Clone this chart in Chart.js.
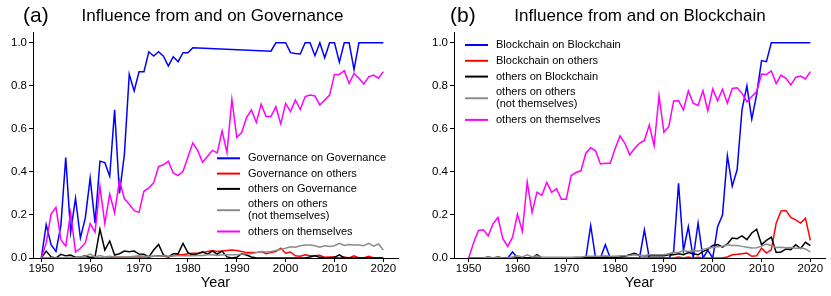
<!DOCTYPE html>
<html>
<head>
<meta charset="utf-8">
<script src="https://cdn.jsdelivr.net/npm/chart.js@4.4.0/dist/chart.umd.min.js"></script>
<style>
  body { margin: 0; background: #fff; }
  .panel { position: absolute; top: 0; height: 296px; }
  #pa { left: 0; width: 415px; }
  #pb { left: 415px; width: 416px; }
</style>
</head>
<body>
<div class="panel" id="pa"><canvas id="ca" width="415" height="296"></canvas></div>
<div class="panel" id="pb"><canvas id="cb" width="416" height="296"></canvas></div>
<script>
const years = [
  1950, 1951, 1952, 1953, 1954, 1955, 1956, 1957, 1958, 1959,
  1960, 1961, 1962, 1963, 1964, 1965, 1966, 1967, 1968, 1969,
  1970, 1971, 1972, 1973, 1974, 1975, 1976, 1977, 1978, 1979,
  1980, 1981, 1982, 1983, 1984, 1985, 1986, 1987, 1988, 1989,
  1990, 1991, 1992, 1993, 1994, 1995, 1996, 1997, 1998, 1999,
  2000, 2001, 2002, 2003, 2004, 2005, 2006, 2007, 2008, 2009,
  2010, 2011, 2012, 2013, 2014, 2015, 2016, 2017, 2018, 2019, 2020
];
const xTicks = [1950, 1960, 1970, 1980, 1990, 2000, 2010, 2020];
const yTicks = [0, 0.2, 0.4, 0.6, 0.8, 1.0];

// (a) Governance
const govOnGov = [
  0, 0.155, 0.062, 0.031, 0.15, 0.467, 0.12, 0.278, 0.093, 0.185,
  0.371, 0.162, 0.45, 0.443, 0.38, 0.688, 0.30, 0.48, 0.853, 0.776,
  0.865, 0.865, 0.958, 0.938, 0.958, 0.938, 0.892, 0.935, 0.912, 0.954,
  0.954, 0.977, null, null, null, null, null, null, null, null,
  null, null, null, null, null, null, null, 0.961, 1.0, 1.0,
  1.0, 0.954, 0.95, 0.948, 1.0, 1.0, 0.94, 1.0, 0.93, 1.0,
  1.0, 0.91, 1.0, 1.0, 0.875, 1.0, 1.0, 1.0, 1.0, 1.0, 1.0
];
const govOnOthers = [
  0, 0, 0, 0, 0, 0, 0, 0, 0, 0,
  0, 0, 0, 0, 0, 0.003, 0.003, 0.003, 0.005, 0.005,
  0.005, 0.005, 0.005, 0.008, 0.01, 0.008, 0.005, 0.01, 0.015, 0.015,
  0.02, 0.022, 0.022, 0.025, 0.03, 0.035, 0.03, 0.033, 0.035, 0.037,
  0.035, 0.03, 0.025, 0.025, 0.025, 0.03, 0.02, 0.025, 0.03, 0.045,
  0.022, 0.028, 0.01, 0.008, 0.015, 0.01, 0.01, 0.013, 0.003, 0.005,
  0.005, 0, 0.005, 0, 0.01, 0, 0, 0.008, 0, 0, 0
];
const othersOnGov = [
  0, 0.032, 0.005, 0, 0.017, 0.01, 0.014, 0.003, 0.005, 0.01,
  0.003, 0.005, 0.134, 0.037, 0.079, 0.014, 0.02, 0.032, 0.029, 0.032,
  0.018, 0.017, 0.005, 0.037, 0.063, 0.014, 0.005, 0.02, 0.02, 0.068,
  0.025, 0.014, 0.02, 0.029, 0.018, 0.032, 0.018, 0.032, 0.005, 0,
  0.003, 0.02, 0.014, 0.005, 0, 0, 0, 0, 0, 0,
  0, 0, 0, 0, 0, 0.005, 0.01, 0.003, 0, 0,
  0.003, 0.015, 0, 0, 0, 0, 0, 0, 0, 0, 0
];
const othersOnOthersA = [
  0, 0, 0, 0, 0, 0.003, 0.003, 0, 0.005, 0.008,
  0.018, 0.005, 0.012, 0.005, 0.008, 0.005, 0.005, 0.005, 0.005, 0.008,
  0.01, 0.008, 0.008, 0.008, 0.008, 0.01, 0.008, 0.01, 0.01, 0.01,
  0.01, 0.01, 0.012, 0.012, 0.015, 0.015, 0.012, 0.015, 0.015, 0.015,
  0.015, 0.018, 0.02, 0.02, 0.025, 0.03, 0.028, 0.03, 0.035, 0.04,
  0.045, 0.052, 0.05, 0.057, 0.06, 0.06, 0.057, 0.05, 0.057, 0.054,
  0.057, 0.068, 0.058, 0.063, 0.06, 0.06, 0.057, 0.068, 0.055, 0.065, 0.037
];
const othersOnSelfA = [
  0, 0.07, 0.204, 0.235, 0.085, 0.055, 0.21, 0.027, 0.045, 0.07,
  0.16, 0.12, 0.332, 0.16, 0.297, 0.21, 0.36, 0.275, 0.25, 0.22,
  0.212, 0.31, 0.326, 0.35, 0.425, 0.433, 0.45, 0.395, 0.383, 0.403,
  0.468, 0.535, 0.50, 0.445, 0.472, 0.50, 0.488, 0.59, 0.49, 0.737,
  0.56, 0.583, 0.652, 0.688, 0.63, 0.715, 0.657, 0.657, 0.703, 0.623,
  0.718, 0.68, 0.734, 0.69, 0.75, 0.757, 0.753, 0.711, 0.734, 0.757,
  0.853, 0.853, 0.87, 0.811, 0.857, 0.835, 0.808, 0.842, 0.85, 0.835, 0.866
];

// (b) Blockchain
const bcOnBc = [
  0, 0, 0, 0, 0, 0, 0, 0, 0, 0.028,
  0, 0, 0, 0, 0, 0, 0, 0, 0, 0,
  0, 0, 0, 0, 0, 0.151, 0, 0, 0.062, 0,
  0, 0, 0, 0, 0, 0, 0.131, 0, 0, 0,
  0, 0, 0.03, 0.347, 0.035, 0.145, 0, 0.162, 0, 0.035,
  0, 0.145, 0.2, 0.475, 0.334, 0.41, 0.69, 0.8, 0.645, 0.76,
  0.917, 0.912, 1.0, 1.0, 1.0, 1.0, 1.0, 1.0, 1.0, 1.0, 1.0
];
const bcOnOthers = [
  0, 0, 0, 0, 0, 0, 0, 0, 0, 0,
  0, 0, 0, 0, 0, 0, 0, 0, 0, 0,
  0, 0, 0, 0, 0, 0, 0, 0, 0, 0,
  0, 0, 0, 0, 0, 0, 0, 0, 0, 0,
  0, 0, 0, 0.005, 0, 0.005, 0, 0.003, 0, 0,
  0, 0, 0, 0.005, 0.015, 0.017, 0.02, 0.023, 0.008, 0.01,
  0.046, 0.023, 0.038, 0.162, 0.219, 0.221, 0.188, 0.177, 0.162, 0.185, 0.082
];
const othersOnBc = [
  0, 0, 0, 0, 0.005, 0, 0.005, 0, 0, 0,
  0, 0, 0, 0, 0.015, 0, 0, 0, 0, 0,
  0, 0, 0, 0, 0.003, 0.005, 0, 0.003, 0.005, 0.003,
  0.003, 0.005, 0.008, 0.015, 0.022, 0.012, 0.01, 0.01, 0.01, 0.01,
  0.01, 0.015, 0.015, 0.02, 0.015, 0.025, 0.02, 0.015, 0.03, 0.04,
  0.058, 0.062, 0.051, 0.065, 0.093, 0.09, 0.103, 0.085, 0.116, 0.134,
  0.062, 0.082, 0.097, 0.026, 0.028, 0.042, 0.039, 0.062, 0.044, 0.073, 0.058
];
const othersOnOthersB = [
  0, 0, 0, 0, 0.003, 0, 0.003, 0, 0, 0.005,
  0.01, 0.005, 0.015, 0.005, 0.01, 0.003, 0.003, 0.003, 0.003, 0.003,
  0.003, 0.003, 0.005, 0.005, 0.008, 0.008, 0.008, 0.008, 0.01, 0.008,
  0.008, 0.01, 0.01, 0.012, 0.015, 0.012, 0.012, 0.015, 0.015, 0.015,
  0.015, 0.02, 0.025, 0.025, 0.035, 0.03, 0.035, 0.032, 0.04, 0.045,
  0.049, 0.052, 0.055, 0.061, 0.058, 0.058, 0.054, 0.05, 0.046, 0.048,
  0.055, 0.065, 0.058, 0.049, 0.05, 0.048, 0.049, 0.045, 0.046, 0.042, 0.028
];
const othersOnSelfB = [
  0, 0.07, 0.128, 0.131, 0.103, 0.159, 0.188, 0.09, 0.054, 0.097,
  0.204, 0.124, 0.353, 0.212, 0.306, 0.291, 0.351, 0.305, 0.322, 0.273,
  0.273, 0.383, 0.397, 0.405, 0.487, 0.512, 0.498, 0.437, 0.44, 0.44,
  0.508, 0.567, 0.533, 0.479, 0.51, 0.533, 0.546, 0.618, 0.522, 0.754,
  0.584, 0.61, 0.73, 0.731, 0.688, 0.776, 0.719, 0.709, 0.777, 0.683,
  0.785, 0.73, 0.784, 0.719, 0.788, 0.791, 0.765, 0.726, 0.75, 0.773,
  0.855, 0.853, 0.869, 0.811, 0.85, 0.835, 0.804, 0.839, 0.845, 0.832, 0.866
];

const colors = ['#0000ff', '#ff0000', '#000000', '#8c8c8c', '#ff00ff'];
const FONT = '"Liberation Sans", Arial, Helvetica, sans-serif';

// legend drawn inside the plot, matplotlib style
const insideLegend = {
  id: 'insideLegend',
  afterDatasetsDraw(chart, args, opts) {
    const ctx = chart.ctx;
    ctx.save();
    ctx.font = '11px ' + FONT;
    ctx.textBaseline = 'middle';
    ctx.textAlign = 'left';
    let y = opts.y;
    chart.data.datasets.forEach(ds => {
      const lines = [].concat(ds.label);
      const mid = y + (lines.length - 1) * opts.inner / 2;
      ctx.strokeStyle = ds.borderColor;
      ctx.lineWidth = 2;
      ctx.beginPath();
      ctx.moveTo(opts.x, mid);
      ctx.lineTo(opts.x + 23, mid);
      ctx.stroke();
      ctx.fillStyle = '#000';
      lines.forEach((t, k) => ctx.fillText(t, opts.x + 31, y + k * opts.inner));
      y += opts.row + (lines.length - 1) * opts.inner;
    });
    ctx.restore();
  }
};

// panel letter + title
const panelTitle = {
  id: 'panelTitle',
  afterDraw(chart, args, opts) {
    const ctx = chart.ctx;
    ctx.save();
    ctx.fillStyle = '#000';
    ctx.textBaseline = 'alphabetic';
    ctx.textAlign = 'left';
    ctx.font = '21px ' + FONT;
    ctx.fillText(opts.letter, opts.letterX, 22);
    ctx.textAlign = 'center';
    ctx.font = '17px ' + FONT;
    ctx.fillText(opts.text, opts.textX, 21);
    ctx.restore();
  }
};

function makeDatasets(names, series) {
  return series.map((arr, i) => ({
    label: names[i],
    data: years.map((yr, k) => ({ x: yr, y: arr[k] })),
    borderColor: colors[i],
    backgroundColor: colors[i],
    borderWidth: 1.5,
    pointRadius: 0,
    tension: 0,
    spanGaps: true,
    order: 5 - i
  }));
}

function makeChart(id, names, series, cfg) {
  new Chart(document.getElementById(id), {
    type: 'line',
    data: { datasets: makeDatasets(names, series) },
    plugins: [insideLegend, panelTitle],
    options: {
      responsive: false,
      animation: false,
      layout: { padding: { top: 32, left: cfg.padLeft, right: cfg.padRight, bottom: 0 } },
      plugins: {
        legend: { display: false },
        tooltip: { enabled: false },
        insideLegend: cfg.legend,
        panelTitle: cfg.title
      },
      scales: {
        x: {
          type: 'linear',
          min: cfg.xMin,
          max: 2023,
          afterBuildTicks: s => { s.ticks = xTicks.map(v => ({ value: v })); },
          afterFit: s => { s.height = 38; },
          ticks: {
            color: '#000',
            font: { family: FONT, size: 11.5 },
            padding: 0,
            maxRotation: 0,
            callback: v => String(v)
          },
          grid: { display: true, drawOnChartArea: false, drawTicks: true, tickLength: 4, color: '#000' },
          border: { display: true, color: '#000', width: 1 },
          title: {
            display: true,
            text: 'Year',
            color: '#000',
            font: { family: FONT, size: 14.5 },
            padding: { top: 0, bottom: 4 }
          }
        },
        y: {
          min: 0,
          max: 1.05,
          afterBuildTicks: s => { s.ticks = yTicks.map(v => ({ value: v })); },
          afterFit: s => { s.width = 33; },
          ticks: {
            color: '#000',
            font: { family: FONT, size: 11.5 },
            padding: 2,
            callback: v => v.toFixed(1)
          },
          grid: { display: true, drawOnChartArea: false, drawTicks: true, tickLength: 4, color: '#000' },
          border: { display: true, color: '#000', width: 1 }
        }
      }
    }
  });
}

makeChart('ca',
  ['Governance on Governance', 'Governance on others', 'others on Governance',
   ['others on others', '(not themselves)'], 'others on themselves'],
  [govOnGov, govOnOthers, othersOnGov, othersOnOthersA, othersOnSelfA],
  {
    padLeft: 0, padRight: 17, xMin: 1948.3,
    legend: { x: 217, y: 158.3, row: 15.3, inner: 12 },
    title: { letter: '(a)', letterX: 23, text: 'Influence from and on Governance', textX: 212.5 }
  });

makeChart('cb',
  ['Blockchain on Blockchain', 'Blockchain on others', 'others on Blockchain',
   ['others on others', '(not themselves)'], 'others on themselves'],
  [bcOnBc, bcOnOthers, othersOnBc, othersOnOthersB, othersOnSelfB],
  {
    padLeft: 6, padRight: 6, xMin: 1947,
    legend: { x: 50, y: 45, row: 15.8, inner: 11.7 },
    title: { letter: '(b)', letterX: 35, text: 'Influence from and on Blockchain', textX: 225 }
  });
</script>
</body>
</html>
